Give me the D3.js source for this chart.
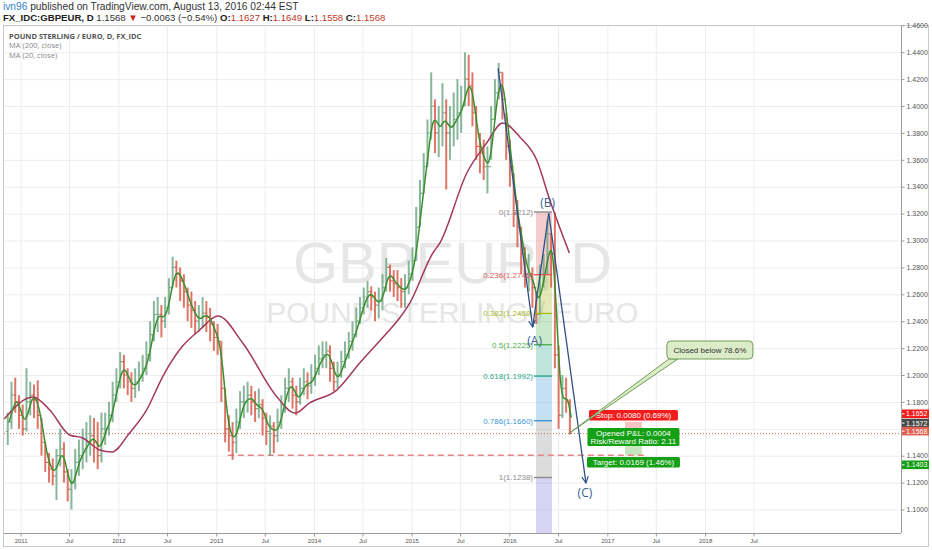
<!DOCTYPE html>
<html>
<head>
<meta charset="utf-8">
<script src="https://cdn.jsdelivr.net/npm/d3@7"></script>
<style>
  body { margin: 0; background: #fff; }
  svg { display: block; }
  text { font-family: "Open Sans", "Liberation Sans", sans-serif; }
</style>
</head>
<body>
<svg id="chart" width="932" height="550"></svg>
<script>
// ---- data ----
// two-week bars starting 2010-11-08
var barStart = "2010-11-08";
var firstOpen = 1.158;
var barClose = [1.165,1.185,1.180,1.170,1.160,1.180,1.185,1.182,1.170,1.150,
  1.135,1.130,1.125,1.140,1.145,1.128,1.115,1.120,1.135,1.140,
  1.145,1.150,1.155,1.150,1.140,1.160,1.160,1.170,1.185,1.195,
  1.210,1.200,1.195,1.190,1.195,1.200,1.205,1.215,1.230,1.245,
  1.245,1.240,1.250,1.265,1.280,1.275,1.270,1.262,1.252,1.248,
  1.240,1.242,1.246,1.243,1.238,1.228,1.225,1.190,1.160,1.155,
  1.150,1.165,1.180,1.180,1.185,1.180,1.175,1.178,1.168,1.158,
  1.162,1.155,1.165,1.178,1.190,1.195,1.185,1.180,1.190,1.195,
  1.192,1.198,1.205,1.212,1.215,1.218,1.205,1.195,1.200,1.210,
  1.215,1.225,1.230,1.240,1.250,1.258,1.262,1.258,1.252,1.255,
  1.265,1.280,1.270,1.268,1.265,1.262,1.265,1.275,1.285,1.310,
  1.335,1.355,1.380,1.400,1.380,1.385,1.395,1.380,1.385,1.390,
  1.395,1.400,1.420,1.415,1.395,1.370,1.365,1.355,1.355,1.390,
  1.410,1.425,1.405,1.370,1.355,1.320,1.310,1.290,1.275,1.275,
  1.265,1.245,1.275,1.275,1.305,1.290,1.215,1.170,1.190,1.180,
  1.1568];
var barLow = [1.148,1.160,1.172,1.160,1.155,1.158,1.170,1.168,1.160,1.140,
  1.128,1.120,1.118,1.107,1.132,1.120,1.106,1.100,1.115,1.125,
  1.130,1.135,1.140,1.135,1.130,1.135,1.148,1.155,1.165,1.180,
  1.190,1.190,1.185,1.180,1.183,1.188,1.195,1.200,1.210,1.225,
  1.232,1.228,1.235,1.245,1.265,1.265,1.255,1.250,1.240,1.235,
  1.230,1.232,1.235,1.232,1.225,1.218,1.215,1.180,1.150,1.143,
  1.137,1.142,1.160,1.168,1.172,1.170,1.165,1.168,1.155,1.148,
  1.140,1.142,1.150,1.160,1.172,1.180,1.175,1.170,1.178,1.185,
  1.182,1.186,1.192,1.200,1.205,1.205,1.195,1.188,1.190,1.198,
  1.205,1.212,1.218,1.228,1.238,1.245,1.250,1.248,1.240,1.242,
  1.248,1.262,1.262,1.258,1.255,1.250,1.250,1.260,1.270,1.285,
  1.310,1.335,1.355,1.375,1.365,1.362,1.370,1.338,1.360,1.370,
  1.375,1.380,1.400,1.400,1.385,1.360,1.350,1.345,1.335,1.360,
  1.390,1.405,1.390,1.360,1.340,1.310,1.295,1.275,1.265,1.262,
  1.250,1.238,1.245,1.265,1.275,1.265,1.205,1.160,1.168,1.172,
  1.1558];
var barHigh = [1.172,1.195,1.198,1.185,1.178,1.205,1.195,1.193,1.196,1.168,
  1.150,1.142,1.138,1.145,1.160,1.150,1.130,1.130,1.145,1.152,
  1.160,1.165,1.170,1.168,1.165,1.172,1.172,1.180,1.195,1.205,
  1.217,1.215,1.205,1.202,1.205,1.210,1.215,1.225,1.240,1.255,
  1.258,1.252,1.258,1.272,1.288,1.285,1.280,1.275,1.265,1.262,
  1.255,1.252,1.258,1.255,1.250,1.240,1.238,1.225,1.190,1.170,
  1.165,1.175,1.188,1.192,1.195,1.192,1.188,1.190,1.182,1.172,
  1.170,1.165,1.175,1.185,1.198,1.205,1.198,1.192,1.198,1.205,
  1.202,1.208,1.215,1.222,1.225,1.225,1.222,1.210,1.210,1.218,
  1.225,1.232,1.240,1.250,1.258,1.265,1.270,1.266,1.262,1.265,
  1.275,1.287,1.282,1.278,1.278,1.272,1.275,1.285,1.295,1.325,
  1.345,1.365,1.390,1.425,1.405,1.400,1.417,1.405,1.400,1.410,
  1.420,1.415,1.440,1.438,1.425,1.400,1.380,1.375,1.370,1.400,
  1.420,1.432,1.425,1.395,1.375,1.350,1.330,1.310,1.295,1.290,
  1.280,1.262,1.282,1.290,1.315,1.305,1.321,1.222,1.200,1.198,
  1.182];

// MA (200, close) read as its own series
var ma200Dates = ["2010-11-01","2011-02-16","2011-04-20","2011-07-03","2011-08-21","2011-10-24",
  "2011-12-08","2012-02-12","2012-04-16","2012-06-14","2012-08-25","2012-10-31","2013-01-07",
  "2013-04-10","2013-08-16","2013-10-22","2013-12-16","2014-03-27","2014-06-21","2014-09-30",
  "2014-11-17","2014-12-25","2015-03-21","2015-04-16","2015-07-26","2015-10-08","2015-12-07",
  "2016-02-09","2016-04-12","2016-05-31","2016-08-12"];
var ma200Values = [1.1673,1.1836,1.1740,1.1554,1.1532,1.1442,1.1428,1.1569,1.1740,1.1985,
  1.2208,1.2335,1.2439,1.2238,1.1836,1.1717,1.1792,1.1888,1.2089,1.2312,1.2424,1.2535,
  1.2907,1.2981,1.3502,1.3725,1.3874,1.3770,1.3599,1.3301,1.2907];

var yTicks = [1.10,1.12,1.14,1.16,1.18,1.20,1.22,1.24,1.26,1.28,1.30,1.32,1.34,1.36,1.38,1.40,1.42,1.44,1.46];
var xTickDates = ["2011-01-01","2011-07-01","2012-01-01","2012-07-01","2013-01-01","2013-07-01",
  "2014-01-01","2014-07-01","2015-01-01","2015-07-01","2016-01-01","2016-07-01","2017-01-01",
  "2017-07-01","2018-01-01","2018-07-01"];
var xTickLabels = ["2011","Jul","2012","Jul","2013","Jul","2014","Jul","2015","Jul","2016","Jul","2017","Jul","2018","Jul"];

// Fibonacci retracement
var fibLevels = [0, 0.236, 0.382, 0.5, 0.618, 0.786, 1, 1.618];
var fibPrices = [1.3212, 1.2746, 1.2458, 1.2225, 1.1992, 1.1660, 1.1238, 1.0018];
var fibRange = ["2016-04-02", "2016-06-08"];

// wave drawing (A)(B)(C)
var waveDates = ["2015-11-20", "2016-03-28", "2016-05-27", "2016-10-13"];
var wavePrices = [1.4280, 1.2357, 1.3204, 1.1197];
var waveNames = ["", "(A)", "(B)", "(C)"];

// short position
var posRange = ["2017-03-08", "2017-05-10"];
var posEntry = 1.1572, posStop = 1.1652, posTarget = 1.1403;
var posTexts = ["Stop: 0.0080 (0.69%)", "Opened P&L: 0.0004", "Risk/Reward Ratio: 2.11", "Target: 0.0169 (1.46%)"];

var supportStart = "2013-02-13", supportEnd = "2017-05-20", supportPrice = 1.1403;
var lastDate = "2016-08-12", lastPrice = 1.1568;
var calloutText = "Closed below 78.6%";
var calloutDate = "2018-01-19", calloutPrice = 1.2186;

var axisLabelPrices = [1.1652, 1.1572, 1.1568, 1.1403];

// ---- styles ----
var upColor = "#6ba583", downColor = "#d75442";
var fibColors = ["#8c8c8c", "#e05a5a", "#aab91f", "#4cae4c", "#2aa88a", "#3f97d6", "#8c8c8c", "#7b6fd6"];
var axisLabelColors = ["#f21c1c", "#4a4a4a", "#e0614f", "#14a014"];
var axisLabelShift = [-8, -9.5, -2, 9.5];
var waveColor = "#2f4f85";

var parse = d3.utcParse("%Y-%m-%d");
var plot = { left: 4, top: 26, right: 901, bottom: 533 };

var svg = d3.select("#chart");

var x = d3.scaleUtc()
  .domain([parse("2010-10-31"), parse("2020-01-03")])
  .range([plot.left, plot.right]);
var y = d3.scaleLinear()
  .domain([1.08253, 1.4595])
  .range([plot.bottom, plot.top]);

// table of bars built from the arrays
var start = parse(barStart);
var bars = barClose.map(function (c, i) {
  return {
    date: d3.utcDay.offset(start, 14 * i + 6),
    end: d3.utcDay.offset(start, 14 * i + 11),
    open: i ? barClose[i - 1] : firstOpen,
    high: barHigh[i], low: barLow[i], close: c
  };
});
var ma20 = bars.map(function (d, i) {
  return { date: d.end, value: d3.mean(barClose.slice(Math.max(0, i - 1), i + 1)) };
});
var ma200 = ma200Dates.map(function (d, i) { return { date: parse(d), value: ma200Values[i] }; });

// frame
svg.append("rect").attr("width", 932).attr("height", 550).attr("fill", "#fff");
svg.append("rect")
  .attr("x", 3.5).attr("y", 25.5).attr("width", 925).attr("height", 521)
  .attr("fill", "none").attr("stroke", "#c9c9c9");

var defs = svg.append("defs");
defs.append("clipPath").attr("id", "plotClip")
  .append("rect")
  .attr("x", plot.left).attr("y", plot.top)
  .attr("width", plot.right - plot.left).attr("height", plot.bottom - plot.top);
defs.append("clipPath").attr("id", "axisClip")
  .append("rect")
  .attr("x", plot.right).attr("y", 21)
  .attr("width", 30).attr("height", plot.bottom - 21);

defs.append("marker")
  .attr("id", "arrow")
  .attr("viewBox", "0 0 10 10")
  .attr("refX", 9).attr("refY", 5)
  .attr("markerWidth", 8).attr("markerHeight", 8)
  .attr("markerUnits", "userSpaceOnUse")
  .attr("orient", "auto")
  .append("path")
  .attr("d", "M1,1 L9,5 L1,9")
  .attr("fill", "none").attr("stroke", waveColor).attr("stroke-width", 1.4);

var g = svg.append("g").attr("clip-path", "url(#plotClip)");

// grid
g.selectAll("line.hgrid").data(yTicks).enter().append("line")
  .attr("x1", plot.left).attr("x2", plot.right)
  .attr("y1", function (d) { return y(d) + 0.5; })
  .attr("y2", function (d) { return y(d) + 0.5; })
  .attr("stroke", "#ededed");
g.selectAll("line.vgrid").data(xTickDates).enter().append("line")
  .attr("x1", function (d) { return x(parse(d)) + 0.5; })
  .attr("x2", function (d) { return x(parse(d)) + 0.5; })
  .attr("y1", plot.top).attr("y2", plot.bottom)
  .attr("stroke", "#ededed");

// watermark
var cx = (plot.left + plot.right) / 2;
g.append("text")
  .attr("x", cx).attr("y", 283)
  .attr("text-anchor", "middle")
  .style("font-family", "Liberation Sans, Arial, sans-serif")
  .style("font-size", "58px")
  .attr("fill", "#e6e6e6")
  .text("GBPEUR, D");
g.append("text")
  .attr("x", cx).attr("y", 323)
  .attr("text-anchor", "middle")
  .style("font-family", "Liberation Sans, Arial, sans-serif")
  .style("font-size", "29.5px")
  .attr("fill", "#e6e6e6")
  .text("POUND STERLING / EURO");

// fib zones
var fx0 = x(parse(fibRange[0])), fx1 = x(parse(fibRange[1]));
g.selectAll("rect.fib").data(fibPrices.slice(1)).enter().append("rect")
  .attr("x", fx0 + 2).attr("width", fx1 - fx0 - 2)
  .attr("y", function (d, i) { return y(fibPrices[i]); })
  .attr("height", function (d, i) { return y(d) - y(fibPrices[i]); })
  .attr("fill", function (d, i) { return fibColors[i + 1]; })
  .attr("opacity", 0.3);

// position zones
var px0 = x(parse(posRange[0])), px1 = x(parse(posRange[1]));
g.append("rect")
  .attr("x", px0).attr("width", px1 - px0)
  .attr("y", y(posStop)).attr("height", y(posEntry) - y(posStop))
  .attr("fill", "#f7c4c4");
g.append("rect")
  .attr("x", px0).attr("width", px1 - px0)
  .attr("y", y(posEntry)).attr("height", y(posTarget) - y(posEntry))
  .attr("fill", "#c6e6bf");

// support line
g.append("line")
  .attr("x1", x(parse(supportStart))).attr("x2", x(parse(supportEnd)))
  .attr("y1", y(supportPrice)).attr("y2", y(supportPrice))
  .attr("stroke", "#e88585").attr("stroke-width", 1.5)
  .attr("stroke-dasharray", "6,4");

// last price line
g.append("line")
  .attr("x1", plot.left).attr("x2", plot.right)
  .attr("y1", y(lastPrice) + 0.5).attr("y2", y(lastPrice) + 0.5)
  .attr("stroke", "#c8705f").attr("stroke-dasharray", "1,2");

// bars
var barG = g.append("g");
barG.selectAll("line.hl").data(bars).enter().append("line")
  .attr("x1", function (d) { return x(d.date); })
  .attr("x2", function (d) { return x(d.date); })
  .attr("y1", function (d) { return y(d.high); })
  .attr("y2", function (d) { return y(d.low); })
  .attr("stroke", function (d) { return d.close >= d.open ? upColor : downColor; })
  .attr("stroke-width", 2)
  .attr("opacity", 0.8);
barG.selectAll("path.oc").data(bars).enter().append("path")
  .attr("d", function (d) {
    var bx = x(d.date);
    return "M" + (bx - 1.9) + "," + y(d.open) + "H" + bx + "M" + bx + "," + y(d.close) + "H" + (bx + 1.9);
  })
  .attr("stroke", function (d) { return d.close >= d.open ? upColor : downColor; })
  .attr("stroke-width", 1.2)
  .attr("opacity", 0.8);

// moving averages
var maLine = d3.line()
  .x(function (d) { return x(d.date); })
  .y(function (d) { return y(d.value); })
  .curve(d3.curveMonotoneX);
g.append("path").datum(ma200).attr("d", maLine)
  .attr("fill", "none").attr("stroke", "#a3395c").attr("stroke-width", 1.5);
g.append("path").datum(ma20).attr("d", maLine.curve(d3.curveBasis))
  .attr("fill", "none").attr("stroke", "#3a8f2c").attr("stroke-width", 1.5);

// fib lines and labels
var fibShown = fibLevels.slice(0, 7);
g.selectAll("line.fibl").data(fibShown).enter().append("line")
  .attr("x1", fx0).attr("x2", fx1)
  .attr("y1", function (d, i) { return y(fibPrices[i]); })
  .attr("y2", function (d, i) { return y(fibPrices[i]); })
  .attr("stroke", function (d, i) { return fibColors[i]; })
  .attr("stroke-width", 1.4);
g.selectAll("text.fibt").data(fibShown).enter().append("text")
  .attr("x", fx0 - 1)
  .attr("y", function (d, i) { return y(fibPrices[i]) + 3; })
  .attr("text-anchor", "end")
  .style("font-family", "Liberation Sans, Arial, sans-serif")
  .style("font-size", "8px")
  .attr("fill", function (d, i) { return fibColors[i]; })
  .text(function (d, i) { return d + "(" + fibPrices[i].toFixed(4) + ")"; });

// wave lines
var wp = waveDates.map(function (d, i) { return [x(parse(d)), y(wavePrices[i])]; });
[[0, 1, true], [1, 2, false], [2, 3, true]].forEach(function (s) {
  var l = g.append("line")
    .attr("x1", wp[s[0]][0]).attr("y1", wp[s[0]][1])
    .attr("x2", wp[s[1]][0]).attr("y2", wp[s[1]][1])
    .attr("stroke", waveColor).attr("stroke-width", 1.3);
  if (s[2]) l.attr("marker-end", "url(#arrow)");
});
var waveOffset = [[0, 0], [2, 18], [-1, -6], [-1, 14]];
g.selectAll("text.wave").data(waveNames).enter().append("text")
  .attr("x", function (d, i) { return wp[i][0] + waveOffset[i][0]; })
  .attr("y", function (d, i) { return wp[i][1] + waveOffset[i][1]; })
  .attr("text-anchor", "middle")
  .style("font-size", "12px")
  .attr("fill", "#3d5f92")
  .text(function (d) { return d; });

// position labels
var pcx = (px0 + px1) / 2;
function tag(cy, h, w, fill, lines) {
  g.append("rect")
    .attr("x", pcx - w / 2).attr("y", cy - h / 2)
    .attr("width", w).attr("height", h).attr("rx", 1.5)
    .attr("fill", fill);
  lines.forEach(function (t, i) {
    g.append("text")
      .attr("x", pcx).attr("y", cy - (lines.length - 1) * 4.2 + i * 8.4 + 3)
      .attr("text-anchor", "middle")
      .style("font-family", "Liberation Sans, Arial, sans-serif")
      .style("font-size", "8px")
      .attr("fill", "#fff")
      .text(t);
  });
}
tag(y(posStop) - 6.5, 10.5, 89, "#f21c1c", [posTexts[0]]);
tag(y(posEntry) + 4.5, 18, 92, "#14a014", [posTexts[1], posTexts[2]]);
tag(y(posTarget) + 7, 10.5, 93, "#14a014", [posTexts[3]]);

// callout
var tipX = x(parse(lastDate)), tipY = y(lastPrice);
var bcx = x(parse(calloutDate)), bcy = y(calloutPrice);
var bw = 86, bh = 18;
g.append("path")
  .attr("d", "M" + (bcx - bw / 2 + 2) + "," + (bcy + bh / 2) + "L" + tipX + "," + tipY +
    "L" + (bcx - bw / 2 + 11) + "," + (bcy + bh / 2) + "Z")
  .attr("fill", "#dcecc9").attr("stroke", "#6f9c58").attr("stroke-width", 1);
g.append("rect")
  .attr("x", bcx - bw / 2).attr("y", bcy - bh / 2)
  .attr("width", bw).attr("height", bh).attr("rx", 4)
  .attr("fill", "#dcecc9").attr("stroke", "#6f9c58").attr("stroke-width", 1);
g.append("text")
  .attr("x", bcx).attr("y", bcy + 3)
  .attr("text-anchor", "middle")
  .style("font-family", "Liberation Sans, Arial, sans-serif")
  .style("font-size", "8px")
  .attr("fill", "#333")
  .text(calloutText);

// axes
svg.append("line")
  .attr("x1", plot.right + 0.5).attr("x2", plot.right + 0.5)
  .attr("y1", plot.top).attr("y2", plot.bottom)
  .attr("stroke", "#9a9a9a");
svg.append("line")
  .attr("x1", plot.left).attr("x2", plot.right)
  .attr("y1", plot.bottom + 0.5).attr("y2", plot.bottom + 0.5)
  .attr("stroke", "#9a9a9a");

// tick labels hidden where a price label covers them
var labelY = axisLabelPrices.map(function (p, i) { return y(p) + axisLabelShift[i]; });
var shownTicks = yTicks.filter(function (t) {
  return labelY.every(function (ly) { return Math.abs(ly - y(t)) > 6; });
});

var yAxis = svg.append("g").attr("clip-path", "url(#axisClip)")
  .append("g")
  .attr("transform", "translate(" + (plot.right + 0.5) + ",0)")
  .call(d3.axisRight(y).tickValues(shownTicks).tickFormat(d3.format(".4f")).tickSize(3).tickPadding(2));
yAxis.select(".domain").remove();
yAxis.selectAll("line").attr("stroke", "#9a9a9a");
yAxis.selectAll("text")
  .style("font-family", "Liberation Sans, Arial, sans-serif")
  .style("font-size", "7px").attr("fill", "#555");

var xAxis = svg.append("g")
  .attr("transform", "translate(0," + (plot.bottom + 0.5) + ")")
  .call(d3.axisBottom(x).tickValues(xTickDates.map(parse))
    .tickFormat(function (d, i) { return xTickLabels[i]; })
    .tickSize(3).tickPadding(2));
xAxis.select(".domain").remove();
xAxis.selectAll("line").attr("stroke", "#9a9a9a");
xAxis.selectAll("text")
  .style("font-family", "Liberation Sans, Arial, sans-serif")
  .style("font-size", "6px").attr("fill", "#555");

// price labels on the right axis
axisLabelPrices.forEach(function (p, i) {
  var cy = labelY[i];
  svg.append("rect")
    .attr("x", plot.right + 1).attr("y", cy - 4.3)
    .attr("width", 27).attr("height", 8.6)
    .attr("fill", axisLabelColors[i]);
  svg.append("line")
    .attr("x1", plot.right + 1).attr("x2", plot.right + 3.5)
    .attr("y1", cy).attr("y2", cy).attr("stroke", "#fff");
  svg.append("text")
    .attr("x", plot.right + 5).attr("y", cy + 2.6)
    .style("font-family", "Liberation Sans, Arial, sans-serif")
    .style("font-size", "7px").attr("fill", "#fff")
    .text(p.toFixed(4));
});

// header and legend
var hdrFont = "Liberation Sans, Arial, sans-serif";
var h1 = svg.append("text").attr("x", 3).attr("y", 9.5)
  .style("font-family", hdrFont).style("font-size", "10.2px").attr("fill", "#333");
h1.append("tspan").attr("fill", "#2f83cc").text("ivn96");
h1.append("tspan").text(" published on TradingView.com, August 13, 2016 02:44 EST");

var h2 = svg.append("text").attr("x", 3).attr("y", 20.8)
  .style("font-family", hdrFont).style("font-size", "9.6px").attr("fill", "#333");
var red = "#c0392b";
[["FX_IDC:GBPEUR, D", "#222", 700], [" 1.1568 ", "#333", 400], ["\u25BC", "#d32020", 400],
 [" \u22120.0063 (\u22120.54%) ", "#333", 400], ["O:", "#222", 700], ["1.1627", red, 400],
 [" H:", "#222", 700], ["1.1649", red, 400], [" L:", "#222", 700], ["1.1558", red, 400],
 [" C:", "#222", 700], ["1.1568", red, 400]].forEach(function (s) {
  h2.append("tspan").attr("fill", s[1]).style("font-weight", s[2]).text(s[0]);
});

svg.append("text").attr("x", 9).attr("y", 38.5)
  .style("font-size", "7.5px").style("font-weight", 700).attr("fill", "#555")
  .text("POUND STERLING / EURO, D, FX_IDC");
svg.append("text").attr("x", 9).attr("y", 48)
  .style("font-size", "7.5px").attr("fill", "#888").text("MA (200, close)");
svg.append("text").attr("x", 9).attr("y", 57.5)
  .style("font-size", "7.5px").attr("fill", "#888").text("MA (20, close)");
</script>
</body>
</html>
